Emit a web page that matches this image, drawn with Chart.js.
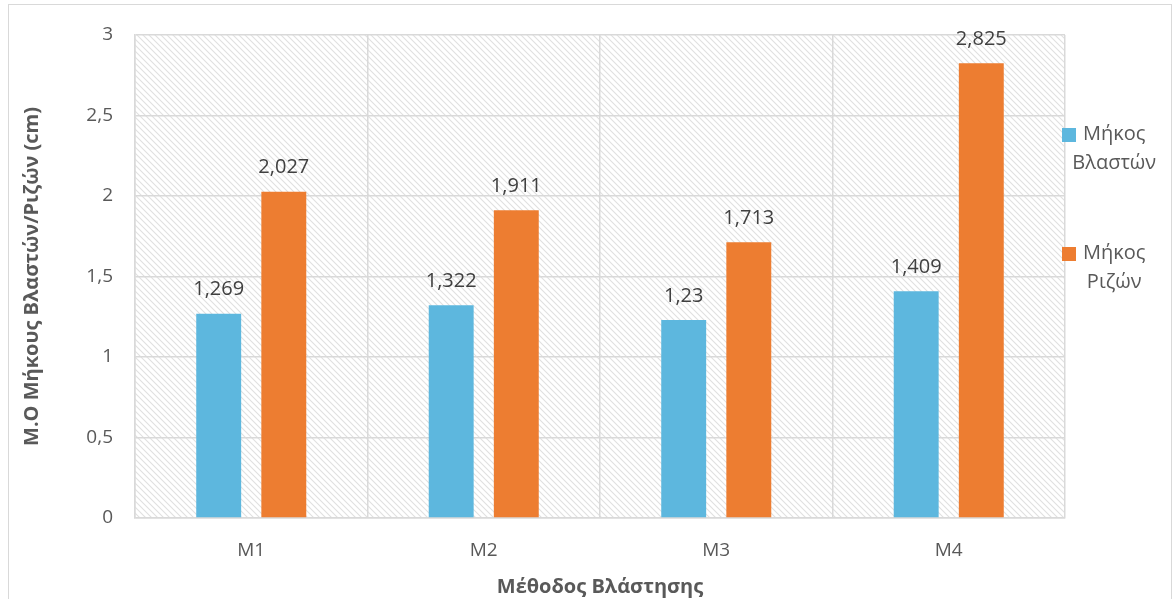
<!DOCTYPE html>
<html>
<head>
<meta charset="utf-8">
<script src="https://cdn.jsdelivr.net/npm/chart.js@4"></script>
<style>
  html, body { margin: 0; padding: 0; background: #fff; }
  #wrap { position: relative; width: 1173px; height: 599px; overflow: hidden; }
  #frame { position: absolute; left: 8px; top: 4px; width: 1162px; height: 600px; border: 1px solid #d9d9d9; }
  #grafico { position: absolute; left: 0; top: 0; }
</style>
</head>
<body>
<div id="wrap">
  <div id="frame"></div>
  <canvas id="grafico" width="1173" height="599"></canvas>
</div>
<script>
const metodos = ['M1', 'M2', 'M3', 'M4'];
const mikosBlaston = [1.269, 1.322, 1.23, 1.409];
const mikosRizon = [2.027, 1.911, 1.713, 2.825];
const legendaBlaston = ['Μήκος', 'Βλαστών'];
const legendaRizon = ['Μήκος', 'Ριζών'];
const colorBlaston = '#5DB7DE';
const colorRizon = '#ED7D31';
const fuente = '"Open Sans", "Liberation Sans", sans-serif';

// diagonal hatch for the plot background
function crearPatron(){
    const c = document.createElement('canvas');
    c.width = 6; c.height = 6;
    const g = c.getContext('2d');
    g.strokeStyle = '#e0e0e0';
    g.lineWidth = 1.1;
    g.beginPath();
    g.moveTo(-1, -1); g.lineTo(7, 7);
    g.moveTo(-1, 5); g.lineTo(1, 7);
    g.moveTo(5, -1); g.lineTo(7, 1);
    g.stroke();
    return g.createPattern(c, 'repeat');
}

const fondoRayado = {
    id: 'fondoRayado',
    beforeDraw(chart){
        const a = chart.chartArea;
        const ctx = chart.ctx;
        ctx.save();
        ctx.fillStyle = crearPatron();
        ctx.fillRect(a.left, a.top, a.right - a.left, a.bottom - a.top);
        ctx.restore();
    }
};

const etiquetas = {
    id: 'etiquetas',
    afterDatasetsDraw(chart){
        const ctx = chart.ctx;
        ctx.save();
        ctx.font = '20px ' + fuente;
        ctx.fillStyle = '#404040';
        ctx.textAlign = 'center';
        ctx.textBaseline = 'middle';
        chart.data.datasets.forEach((ds, i) => {
            chart.getDatasetMeta(i).data.forEach((bar, j) => {
                ctx.fillText(String(ds.data[j]).replace('.', ','), bar.x, bar.y - 24);
            });
        });
        ctx.restore();
    }
};

const leyenda = {
    id: 'leyenda',
    afterDraw(chart){
        const ctx = chart.ctx;
        const items = [
            { color: colorBlaston, texto: legendaBlaston, y: 128 },
            { color: colorRizon, texto: legendaRizon, y: 247 }
        ];
        ctx.save();
        ctx.font = '20px ' + fuente;
        ctx.textBaseline = 'middle';
        ctx.textAlign = 'center';
        items.forEach(it => {
            ctx.fillStyle = it.color;
            ctx.fillRect(1062, it.y, 14, 14);
            ctx.fillStyle = '#595959';
            const cx = 1081 + ctx.measureText(it.texto[0]).width / 2;
            ctx.fillText(it.texto[0], cx + 2, it.y + 6);
            ctx.fillText(it.texto[1], cx + 2, it.y + 35);
        });
        ctx.restore();
    }
};

new Chart(document.getElementById('grafico'), {
    type: 'bar',
    data: {
        labels: metodos,
        datasets: [{
            label: 'Μήκος Βλαστών',
            data: mikosBlaston,
            backgroundColor: colorBlaston,
            categoryPercentage: 0.56,
            barPercentage: 0.69
        },
        {
            label: 'Μήκος Ριζών',
            data: mikosRizon,
            backgroundColor: colorRizon,
            categoryPercentage: 0.56,
            barPercentage: 0.69
        }]
    },
    options: {
        responsive: false,
        animation: false,
        layout: {
            padding: { left: 0, right: 108, top: 35, bottom: 0 }
        },
        plugins: {
            legend: { display: false },
            tooltip: { enabled: false }
        },
        scales: {
            x: {
                grid: { color: '#d9d9d9', lineWidth: 1.5, drawTicks: false, offset: true },
                border: { color: '#d9d9d9', width: 1.5 },
                ticks: {
                    color: '#595959',
                    padding: 21,
                    font: { family: fuente, size: 19 }
                },
                title: {
                    display: true,
                    text: 'Μέθοδος Βλάστησης',
                    color: '#595959',
                    padding: { top: 2, bottom: 0 },
                    font: { family: fuente, size: 20, weight: 'bold' }
                },
                afterFit(scale){ scale.height = 81; }
            },
            y: {
                min: 0,
                max: 3,
                grid: { color: '#d9d9d9', lineWidth: 1.5, drawTicks: false },
                border: { color: '#d9d9d9', width: 1.5 },
                ticks: {
                    stepSize: 0.5,
                    color: '#595959',
                    padding: 22,
                    font: { family: fuente, size: 19 },
                    callback: v => String(v).replace('.', ',')
                },
                title: {
                    display: true,
                    text: 'Μ.Ο Μήκους Βλαστών/Ριζών (cm)',
                    color: '#595959',
                    padding: { top: 20, bottom: 0 },
                    font: { family: fuente, size: 20, weight: 'bold' }
                },
                afterFit(scale){ scale.width = 135; }
            }
        }
    },
    plugins: [fondoRayado, etiquetas, leyenda]
});
</script>
</body>
</html>
